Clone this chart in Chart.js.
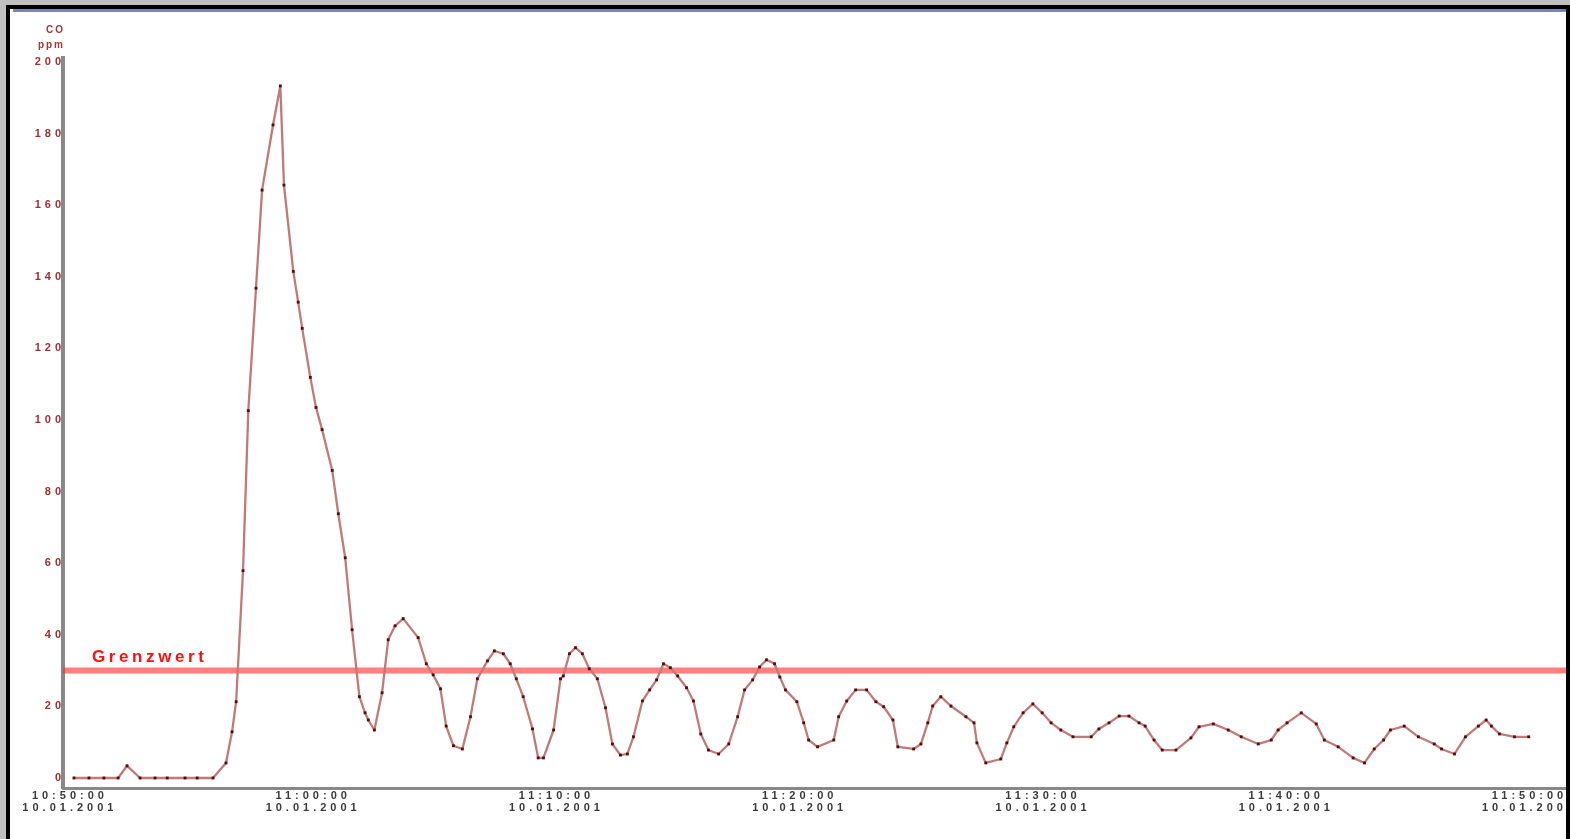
<!DOCTYPE html>
<html>
<head>
<meta charset="utf-8">
<script src="https://cdn.jsdelivr.net/npm/chart.js@4.4.1/dist/chart.umd.min.js"></script>
<style>
  html, body { margin: 0; padding: 0; background: #ffffff; width: 1570px; height: 839px; overflow: hidden; }
  #wrap { position: absolute; left: 0; top: 0; width: 1570px; height: 839px; }
  .frame { position: absolute; z-index: 5; }
  .unit { position: absolute; z-index: 6; right: 1505px; color: #a03838; font: bold 10px "Liberation Sans", Arial, sans-serif; letter-spacing: 2px; text-align: right; }
</style>
</head>
<body>
<div id="wrap"><canvas id="c" width="1570" height="839"></canvas></div>
<div class="frame" style="left:0;top:0;width:6px;height:839px;background:#c0c0c0"></div>
<div class="frame" style="left:0;top:0;width:1570px;height:5px;background:#c0c0c0"></div>
<div class="frame" style="left:6px;top:5px;width:4px;height:834px;background:#000"></div>
<div class="frame" style="left:6px;top:5px;width:1564px;height:4px;background:#000"></div>
<div class="frame" style="left:13px;top:9px;width:1553px;height:3px;background:#8080c0"></div>
<div class="frame" style="left:1566px;top:5px;width:4px;height:834px;background:#000"></div>
<div class="unit" style="top:24px">CO</div>
<div class="unit" style="top:39px">ppm</div>
<script>
// ---- data ----
const sampleSeconds = [
  10,47,84,119,141,173,210,240,284,314,
  353,385,400,410,427,440,459,474,501,519,
  528,551,563,573,593,607,622,647,662,679,
  696,714,728,736,751,770,785,802,822,859,
  879,896,914,928,946,968,988,1005,1030,1047,
  1069,1086,1101,1118,1141,1155,1168,1193,1210,1217,
  1232,1247,1264,1281,1301,1321,1338,1358,1375,1390,
  1412,1430,1447,1464,1481,1499,1521,1538,1556,1575,
  1600,1625,1647,1664,1684,1701,1718,1738,1751,1765,
  1793,1810,1822,1844,1884,1896,1916,1938,1965,1988,
  2007,2030,2042,2081,2099,2116,2128,2148,2173,2210,
  2230,2237,2259,2296,2311,2328,2351,2375,2398,2420,
  2444,2474,2519,2538,2563,2588,2612,2637,2652,2674,
  2694,2728,2765,2785,2820,2857,2889,2931,2963,2980,
  3002,3037,3074,3094,3128,3165,3193,3217,3240,3257,
  3291,3326,3365,3383,3415,3442,3474,3493,3506,3526,
  3563,3598
];
const concentration = [
  0,0,0,0,3.4,0,0,0,0,0,
  0,4.2,12.9,21.3,57.9,102.6,136.8,164.2,182.4,193.3,
  165.6,141.5,132.9,125.6,111.9,103.5,97.3,85.9,73.8,61.5,
  41.4,22.7,18.2,16.2,13.4,23.8,38.6,42.5,44.5,39.2,
  31.9,28.8,24.9,14.5,9.0,8.1,17.1,27.7,32.7,35.5,
  34.7,31.9,27.7,22.7,13.7,5.6,5.6,13.4,27.7,28.5,
  34.7,36.4,34.7,30.5,27.7,19.6,9.5,6.4,6.7,11.5,
  21.5,24.6,27.4,31.9,30.8,28.5,25.2,21.5,12.3,7.8,
  6.7,9.5,17.1,24.6,27.4,31.0,33.0,31.9,28.2,24.6,
  21.3,15.4,10.6,8.7,10.6,17.1,21.5,24.6,24.6,21.3,
  19.9,16.2,8.7,8.1,9.5,15.4,20.1,22.7,20.1,17.1,
  15.4,9.8,4.2,5.3,9.8,14.3,18.2,20.7,18.2,15.4,
  13.4,11.5,11.5,13.7,15.4,17.3,17.3,15.4,14.5,10.6,
  7.8,7.8,11.2,14.3,15.1,13.4,11.5,9.5,10.6,13.4,
  15.4,18.2,15.1,10.6,8.7,5.6,4.2,8.1,10.6,13.4,
  14.5,11.5,9.5,8.1,6.7,11.5,14.5,16.2,14.5,12.3,
  11.5,11.5
];
const grenzwert = 30;
const grenzwertLabel = 'Grenzwert';
const xTickSeconds = [0, 600, 1200, 1800, 2400, 3000, 3600];
const xTickTimes = ['10:50:00','11:00:00','11:10:00','11:20:00','11:30:00','11:40:00','11:50:00'];
const xTickDates = ['10.01.2001','10.01.2001','10.01.2001','10.01.2001','10.01.2001','10.01.2001','10.01.2001'];
const yTicks = [0, 20, 40, 60, 80, 100, 120, 140, 160, 180, 200];
const xMin = -17, xMax = 3690, yMin = -2.8, yMax = 201.1;

const seriesPoints = sampleSeconds.map((s, i) => ({ x: s, y: concentration[i] }));
const limitPoints = [{ x: xMin, y: grenzwert }, { x: xMax, y: grenzwert }];

const spacingPlugin = {
  id: 'spacing',
  beforeDraw(chart) { chart.ctx.letterSpacing = '4px'; },
  afterDraw(chart) { chart.ctx.letterSpacing = '0px'; }
};
const limitTextPlugin = {
  id: 'limitText',
  afterDatasetsDraw(chart) {
    const ctx = chart.ctx;
    const y = chart.scales.y.getPixelForValue(grenzwert);
    ctx.save();
    ctx.letterSpacing = '3.6px';
    ctx.font = 'bold 17px "Liberation Sans", Arial, sans-serif';
    ctx.fillStyle = '#ff1010';
    ctx.textAlign = 'left';
    ctx.textBaseline = 'alphabetic';
    ctx.fillText(grenzwertLabel, chart.chartArea.left + 29, y - 9);
    ctx.restore();
  }
};

new Chart(document.getElementById('c'), {
  type: 'line',
  data: {
    datasets: [
      {
        label: 'Messwert',
        data: seriesPoints,
        borderColor: '#c07a7a',
        borderWidth: 2.3,
        borderJoinStyle: 'round',
        tension: 0,
        pointStyle: 'rect',
        pointRadius: 2,
        pointBackgroundColor: '#5a0808',
        pointBorderWidth: 0,
        order: 1
      },
      {
        label: grenzwertLabel,
        data: limitPoints,
        borderColor: 'rgba(255,40,40,0.6)',
        borderWidth: 6,
        pointRadius: 0,
        tension: 0,
        order: 2
      }
    ]
  },
  options: {
    responsive: false,
    animation: false,
    events: [],
    layout: { padding: { left: 0, top: 58, right: 4, bottom: 0 } },
    plugins: { legend: { display: false }, tooltip: { enabled: false } },
    scales: {
      x: {
        type: 'linear',
        min: xMin,
        max: xMax,
        grid: { display: false, drawTicks: false, tickLength: 0 },
        border: { display: true, color: '#888888', width: 3 },
        afterBuildTicks(scale) { scale.ticks = xTickSeconds.map(v => ({ value: v })); },
        afterFit(scale) { scale.height = 51; scale.paddingLeft = 0; scale.paddingRight = 0; },
        ticks: {
          autoSkip: false,
          maxRotation: 0,
          padding: 2,
          color: '#3a3a3a',
          font: { family: '"Liberation Sans", Arial, sans-serif', size: 11, weight: 'bold', lineHeight: 1.1 },
          callback(value) {
            const i = xTickSeconds.indexOf(value);
            return i >= 0 ? [xTickTimes[i], xTickDates[i]] : '';
          }
        }
      },
      y: {
        type: 'linear',
        min: yMin,
        max: yMax,
        grid: { display: false, drawTicks: false, tickLength: 0 },
        border: { display: true, color: '#888888', width: 4 },
        afterBuildTicks(scale) { scale.ticks = yTicks.map(v => ({ value: v })); },
        afterFit(scale) { scale.width = 63; scale.paddingTop = 0; scale.paddingBottom = 0; },
        ticks: {
          autoSkip: false,
          padding: -2,
          color: '#a03030',
          font: { family: '"Liberation Sans", Arial, sans-serif', size: 11, weight: 'bold' },
          callback(value) { return String(value); }
        }
      }
    }
  },
  plugins: [spacingPlugin, limitTextPlugin]
});
</script>
</body>
</html>
